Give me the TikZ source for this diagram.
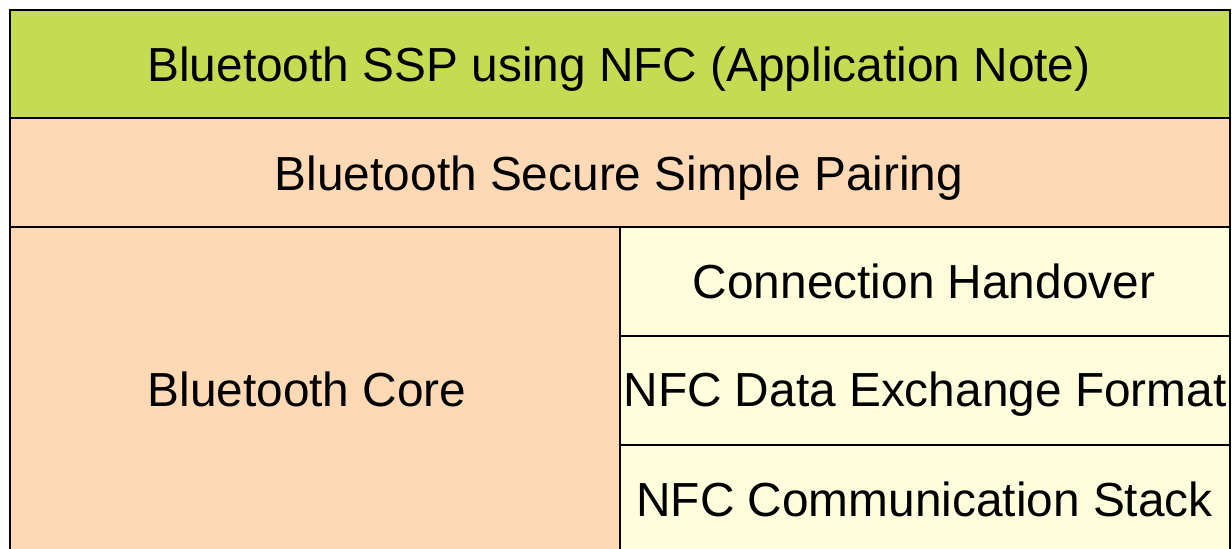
\documentclass[tikz,border=0pt]{standalone}
\usepackage{fontspec}
\setmainfont{Liberation Sans}
\definecolor{apgreen}{HTML}{C5DB52}
\definecolor{peach}{HTML}{FDD9B5}
\definecolor{lyellow}{HTML}{FFFEDC}
\tikzset{
  cell/.style={draw=black, line width=2.2pt, inner sep=0pt, outer sep=0pt},
  lbl/.style={font=\fontsize{47.8}{56}\selectfont, text=black, inner sep=0pt, anchor=base},
}
\begin{document}
\begin{tikzpicture}[x=1pt,y=-1pt]
\useasboundingbox (0,0) rectangle (1232,549);
\fill[white] (0,0) rectangle (1232,549);
% cells
\filldraw[cell, fill=apgreen] (10,10) rectangle (1230,118);
\filldraw[cell, fill=peach] (10,118) rectangle (1230,227);
\filldraw[cell, fill=peach] (10,227) rectangle (620,560);
\filldraw[cell, fill=lyellow] (620,227) rectangle (1230,336);
\filldraw[cell, fill=lyellow] (620,336) rectangle (1230,445);
\filldraw[cell, fill=lyellow] (620,445) rectangle (1230,560);
% labels
\node[lbl] (top) at (619,81.7) {Bluetooth SSP using NFC (Application Note)};
\node[lbl] (ssp) at (619,190) {Bluetooth Secure Simple Pairing};
\node[lbl] (core) at (307,406.7) {Bluetooth Core};
\node[lbl] (ch) at (924,298.3) {Connection Handover};
\node[lbl] (ndef) at (925,406.7) {NFC Data Exchange Format};
\node[lbl] (ncs) at (924.5,516.7) {NFC Communication Stack};
\end{tikzpicture}
\end{document}
